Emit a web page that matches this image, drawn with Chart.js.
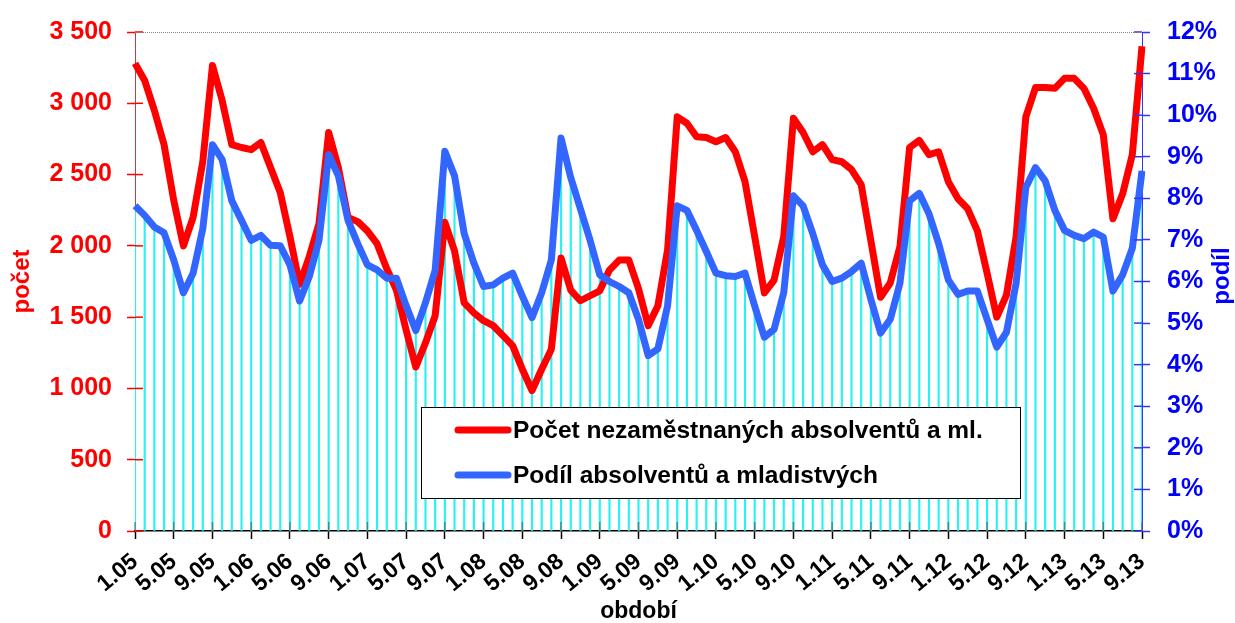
<!DOCTYPE html>
<html lang="cs">
<head>
<meta charset="utf-8">
<title>Nezaměstnaní absolventi</title>
<script src="https://cdn.jsdelivr.net/npm/chart.js@4.4.1/dist/chart.umd.min.js"></script>
<style>
  html, body { margin: 0; padding: 0; background: #fff; }
  #wrap { width: 1235px; height: 623px; position: relative; }
</style>
</head>
<body>
<div id="wrap"><canvas id="chart"></canvas></div>
<script>
/* ---- DATA ---- */
const categories = [
  '1.05','2.05','3.05','4.05','5.05','6.05','7.05','8.05','9.05','10.05','11.05','12.05',
  '1.06','2.06','3.06','4.06','5.06','6.06','7.06','8.06','9.06','10.06','11.06','12.06',
  '1.07','2.07','3.07','4.07','5.07','6.07','7.07','8.07','9.07','10.07','11.07','12.07',
  '1.08','2.08','3.08','4.08','5.08','6.08','7.08','8.08','9.08','10.08','11.08','12.08',
  '1.09','2.09','3.09','4.09','5.09','6.09','7.09','8.09','9.09','10.09','11.09','12.09',
  '1.10','2.10','3.10','4.10','5.10','6.10','7.10','8.10','9.10','10.10','11.10','12.10',
  '1.11','2.11','3.11','4.11','5.11','6.11','7.11','8.11','9.11','10.11','11.11','12.11',
  '1.12','2.12','3.12','4.12','5.12','6.12','7.12','8.12','9.12','10.12','11.12','12.12',
  '1.13','2.13','3.13','4.13','5.13','6.13','7.13','8.13','9.13'
];

// počet nezaměstnaných absolventů a mladistvých
const pocet = [
  3280, 3160, 2950, 2710, 2320, 2000, 2200, 2590, 3265, 3020, 2710, 2690,
  2675, 2725, 2550, 2375, 2065, 1730, 1925, 2155, 2795, 2550, 2200, 2170,
  2105, 2015, 1840, 1690, 1410, 1150, 1320, 1510, 2165, 1965, 1600, 1530,
  1475, 1440, 1370, 1300, 1135,  985, 1135, 1275, 1915, 1690, 1615, 1650,
  1685, 1830, 1900, 1900, 1700, 1440, 1580, 1970, 2905, 2860, 2765, 2760,
  2730, 2760, 2660, 2450, 2065, 1670, 1760, 2065, 2895, 2795, 2660, 2710,
  2605, 2590, 2535, 2430, 2035, 1640, 1740, 1995, 2690, 2740, 2640, 2660,
  2450, 2330, 2260, 2105, 1810, 1500, 1655, 2065, 2905, 3110, 3110, 3105,
  3175, 3175, 3105, 2965, 2780, 2190, 2365, 2640, 3400
];

// podíl absolventů a mladistvých (%)
const podil = [
  7.82, 7.59, 7.31, 7.17, 6.52, 5.73, 6.20, 7.27, 9.29, 8.93, 7.94, 7.47,
  6.99, 7.11, 6.87, 6.86, 6.40, 5.53, 6.12, 6.99, 9.05, 8.54, 7.47, 6.91,
  6.40, 6.28, 6.08, 6.08, 5.42, 4.82, 5.49, 6.27, 9.13, 8.54, 7.15, 6.44,
  5.88, 5.92, 6.08, 6.20, 5.65, 5.13, 5.73, 6.52, 9.45, 8.50, 7.75, 6.99,
  6.16, 6.00, 5.88, 5.73, 5.09, 4.22, 4.38, 5.41, 7.82, 7.71, 7.23, 6.72,
  6.20, 6.14, 6.12, 6.20, 5.41, 4.66, 4.85, 5.73, 8.06, 7.82, 7.15, 6.40,
  6.00, 6.08, 6.24, 6.44, 5.57, 4.76, 5.09, 5.96, 7.94, 8.12, 7.63, 6.91,
  6.04, 5.69, 5.77, 5.77, 5.09, 4.42, 4.78, 5.96, 8.26, 8.74, 8.42, 7.71,
  7.23, 7.11, 7.03, 7.19, 7.07, 5.77, 6.16, 6.80, 8.66
];

const RED  = '#FF0000';
const BLUE = '#3366FF';
const FONT = "'Liberation Sans', Arial, sans-serif";

const fmtThousands = v => String(v).replace(/\B(?=(\d{3})+(?!\d))/g, ' ');

/* ============================================================
   INNER TICKS — tick marks cross the axis lines
   ============================================================ */
const innerTicks = {
  id: 'innerTicks',
  afterDatasetsDraw(chart) {
    const { ctx, chartArea: a, scales } = chart;
    ctx.save();
    ctx.lineWidth = 1.5;

    ctx.strokeStyle = 'rgba(90,90,90,0.7)';
    scales.x.ticks.forEach((t, i) => {
      if (t.label == null) return;
      const x = scales.x.getPixelForTick(i);
      ctx.beginPath(); ctx.moveTo(x, a.bottom - 9); ctx.lineTo(x, a.bottom); ctx.stroke();
    });

    ctx.strokeStyle = RED;
    scales.y.ticks.forEach((t, i) => {
      const y = scales.y.getPixelForTick(i);
      ctx.beginPath(); ctx.moveTo(a.left, y); ctx.lineTo(a.left + 8, y); ctx.stroke();
    });

    ctx.strokeStyle = '#3333FF';
    scales.y2.ticks.forEach((t, i) => {
      const y = scales.y2.getPixelForTick(i);
      ctx.beginPath(); ctx.moveTo(a.right - 8, y); ctx.lineTo(a.right, y); ctx.stroke();
    });
    ctx.restore();
  }
};

/* ============================================================
   DECOR — dotted top line, right axis title, legend box
   ============================================================ */
const decor = {
  id: 'decor',
  afterDraw(chart) {
    const { ctx, chartArea: a } = chart;
    ctx.save();

    // dotted top border
    ctx.strokeStyle = '#888';
    ctx.lineWidth = 1;
    ctx.setLineDash([1, 1]);
    ctx.beginPath();
    ctx.moveTo(a.left, a.top + 0.5);
    ctx.lineTo(a.right, a.top + 0.5);
    ctx.stroke();
    ctx.setLineDash([]);

    // right axis title (reads bottom -> top)
    ctx.save();
    ctx.translate(1222, 276);
    ctx.rotate(-Math.PI / 2);
    ctx.fillStyle = '#0000FF';
    ctx.font = `bold 24px ${FONT}`;
    ctx.textAlign = 'center';
    ctx.textBaseline = 'middle';
    ctx.fillText('podíl', 0, 0);
    ctx.restore();

    // legend
    const box = { x: 421.5, y: 407.5, w: 599, h: 91 };
    ctx.fillStyle = '#fff';
    ctx.fillRect(box.x, box.y, box.w, box.h);
    ctx.strokeStyle = '#000';
    ctx.lineWidth = 1;
    ctx.strokeRect(box.x, box.y, box.w, box.h);

    const items = [chart.data.datasets[1], chart.data.datasets[0]];
    items.forEach((ds, i) => {
      const y = 430 + i * 45;
      ctx.strokeStyle = ds.borderColor;
      ctx.lineWidth = 7;
      ctx.lineCap = 'round';
      ctx.beginPath();
      ctx.moveTo(458, y);
      ctx.lineTo(508, y);
      ctx.stroke();
      ctx.fillStyle = '#000';
      ctx.font = `bold 24.5px ${FONT}`;
      ctx.textAlign = 'left';
      ctx.textBaseline = 'middle';
      ctx.fillText(ds.label, 513, y + 1);
    });

    ctx.restore();
  }
};

/* ============================================================
   CHART
   ============================================================ */
new Chart(document.getElementById('chart'), {
  data: {
    labels: categories,
    datasets: [
      {
        type: 'line',
        label: 'Podíl absolventů a mladistvých',
        data: podil,
        yAxisID: 'y2',
        borderColor: BLUE,
        borderWidth: 7,
        borderJoinStyle: 'round',
        pointRadius: 0,
        tension: 0,
        order: 1
      },
      {
        type: 'line',
        label: 'Počet nezaměstnaných absolventů a ml.',
        data: pocet,
        yAxisID: 'y',
        borderColor: RED,
        borderWidth: 7,
        borderJoinStyle: 'round',
        pointRadius: 0,
        tension: 0,
        order: 2
      },
      {
        // thin drop lines from the share line down to the axis
        type: 'bar',
        label: 'drop',
        data: podil,
        yAxisID: 'y2',
        backgroundColor: '#2AF2F2',
        barThickness: 1.5,
        order: 3
      }
    ]
  },
  options: {
    responsive: true,
    maintainAspectRatio: false,
    animation: false,
    layout: { padding: { top: 26, left: 0, right: 0, bottom: 0 } },
    plugins: {
      legend: { display: false },
      tooltip: { enabled: false }
    },
    scales: {
      x: {
        type: 'category',
        offset: false,
        grid: {
          offset: false,
          drawOnChartArea: false,
          drawTicks: true,
          tickLength: 8,
          tickColor: '#000',
          tickWidth: 1.5
        },
        border: { color: '#000', width: 1.5 },
        ticks: {
          autoSkip: false,
          minRotation: 40,
          maxRotation: 40,
          padding: 9,
          color: '#000',
          font: { family: FONT, size: 23, weight: 'bold' },
          callback: (v, i) => (i % 4 === 0 ? categories[i] : null)
        },
        title: {
          display: true,
          text: 'období',
          color: '#000',
          padding: { top: 0, bottom: 0 },
          font: { family: FONT, size: 23, weight: 'bold', lineHeight: 1 }
        },
        afterFit: s => { s.height = 92; }
      },
      y: {
        position: 'left',
        min: 0,
        max: 3500,
        grid: {
          drawOnChartArea: false,
          tickLength: 8,
          tickColor: RED,
          tickWidth: 1.5
        },
        border: { color: '#C04040', width: 1 },
        ticks: {
          stepSize: 500,
          padding: 15,
          color: RED,
          font: { family: FONT, size: 25, weight: 'bold' },
          callback: v => fmtThousands(v)
        },
        title: {
          display: true,
          text: 'počet',
          color: RED,
          padding: { top: 10, bottom: 0 },
          font: { family: FONT, size: 24, weight: 'bold', lineHeight: 1 }
        },
        afterFit: s => { s.width = 135; }
      },
      y2: {
        position: 'right',
        min: 0,
        max: 12,
        grid: {
          drawOnChartArea: false,
          tickLength: 8,
          tickColor: '#3333FF',
          tickWidth: 1.5
        },
        border: { color: '#3333FF', width: 1 },
        ticks: {
          stepSize: 1,
          padding: 17,
          color: '#0000FF',
          font: { family: FONT, size: 25, weight: 'bold' },
          callback: v => v + '%'
        },
        afterFit: s => { s.width = 93; }
      }
    }
  },
  plugins: [innerTicks, decor]
});
</script>
</body>
</html>
